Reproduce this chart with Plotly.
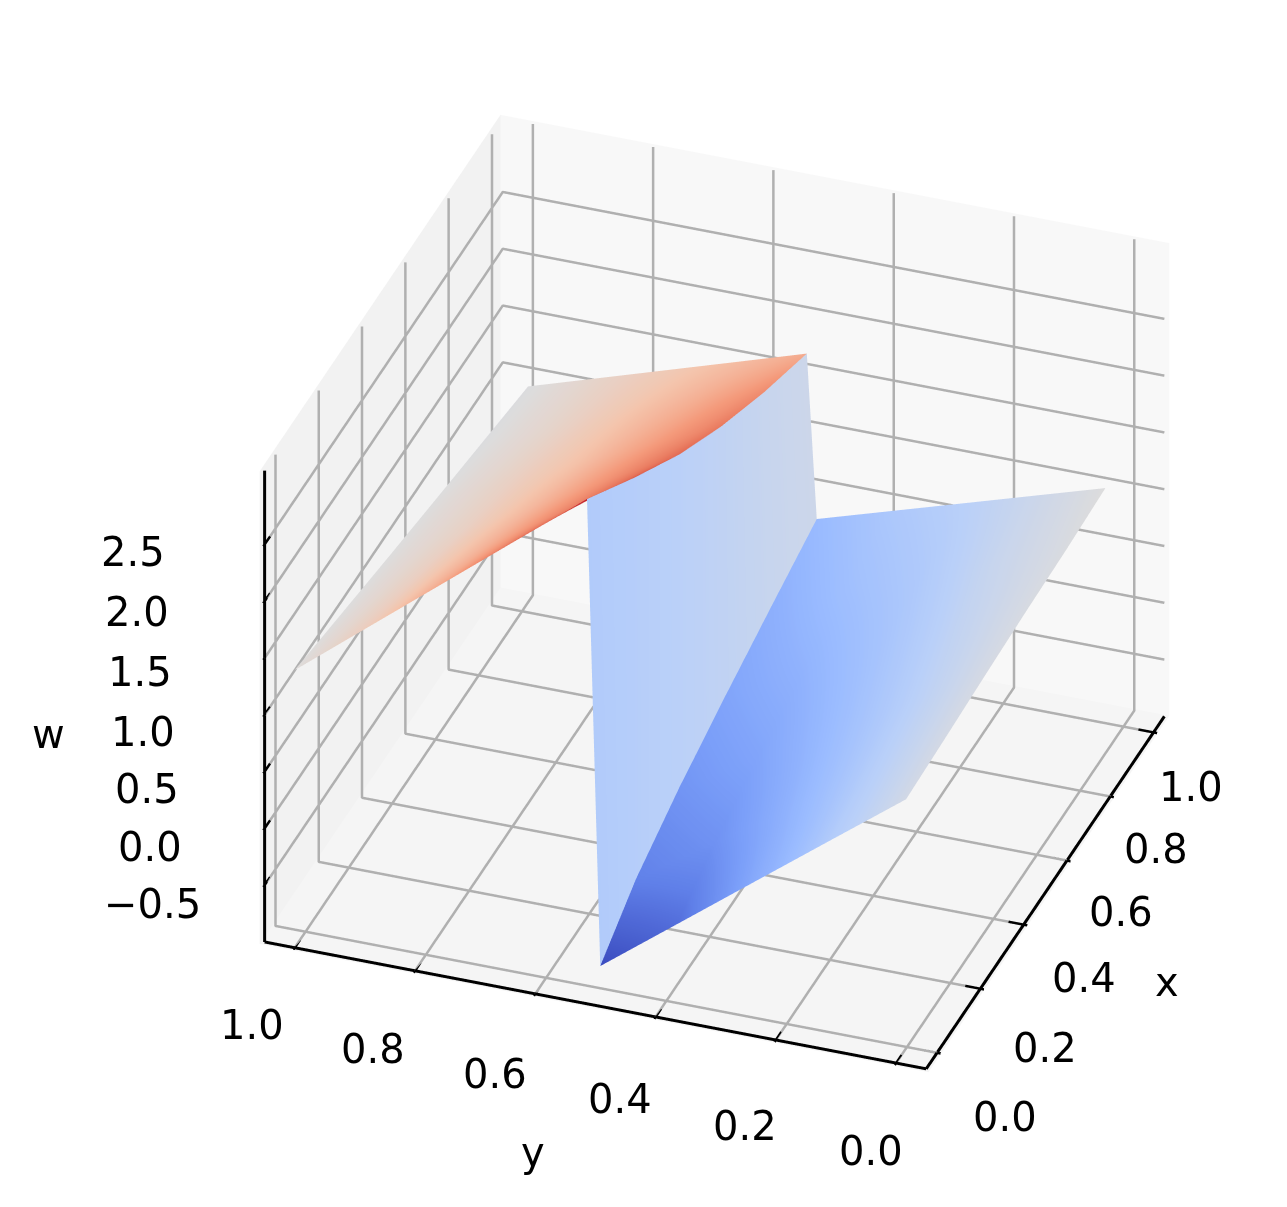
import plotly.graph_objects as go

# Lower sheet: rows run from the far edge (y near 0) to the jump.
x_lower = [[0.0, 0.2, 0.4, 0.6, 0.8, 1.0]] * 5
y_lower = [
    [0.0015, 0.007, 0.013, 0.019, 0.024, 0.03],
    [0.129, 0.1343, 0.139, 0.143, 0.146, 0.15],
    [0.256, 0.2615, 0.2655, 0.2675, 0.269, 0.27],
    [0.383, 0.392, 0.394, 0.393, 0.392, 0.39],
    [0.51, 0.5225, 0.523, 0.5195, 0.514, 0.51],
]
w_lower = [
    [1.18, 1.16, 1.14, 1.115, 1.09, 1.07],
    [0.684, 0.718, 0.761, 0.80, 0.841, 0.88],
    [0.188, 0.277, 0.383, 0.485, 0.593, 0.69],
    [-0.309, -0.165, 0.004, 0.17, 0.344, 0.50],
    [-0.805, -0.614, -0.38, -0.145, 0.095, 0.31],
]
shade_lower = [
    [0.47, 0.475, 0.48, 0.485, 0.49, 0.50],
    [0.38, 0.39, 0.40, 0.42, 0.44, 0.45],
    [0.24, 0.28, 0.31, 0.34, 0.37, 0.40],
    [0.07, 0.16, 0.22, 0.27, 0.32, 0.36],
    [0.0, 0.11, 0.17, 0.22, 0.26, 0.30],
]
# Upper sheet: rows run from the jump to the far edge (y near 1).
x_upper = [
    [0.05, 0.2, 0.4, 0.6, 0.8, 1.0],
    [0.046, 0.2, 0.4, 0.6, 0.8, 1.0],
    [0.0375, 0.2, 0.4, 0.6, 0.8, 1.0],
    [0.025, 0.2, 0.4, 0.6, 0.8, 1.0],
    [0.0125, 0.2, 0.4, 0.6, 0.8, 1.0],
    [0.0, 0.2, 0.4, 0.6, 0.8, 1.0],
]
y_upper = [
    [0.55, 0.524, 0.522, 0.5245, 0.5255, 0.5265],
    [0.587, 0.563, 0.561, 0.5625, 0.563, 0.5635],
    [0.667, 0.646, 0.643, 0.643, 0.643, 0.642],
    [0.784, 0.768, 0.764, 0.762, 0.76, 0.758],
    [0.901, 0.89, 0.885, 0.881, 0.878, 0.874],
    [1.018, 1.012, 1.006, 1.0, 0.995, 0.99],
]
w_upper = [
    [3.126, 2.92, 2.56, 2.24, 1.975, 1.75],
    [2.979, 2.784, 2.448, 2.15, 1.901, 1.689],
    [2.666, 2.496, 2.211, 1.958, 1.744, 1.56],
    [2.205, 2.073, 1.863, 1.675, 1.513, 1.37],
    [1.745, 1.649, 1.514, 1.393, 1.281, 1.18],
    [1.285, 1.225, 1.165, 1.11, 1.05, 0.99],
]
shade_upper = [
    [1.0, 0.88, 0.83, 0.79, 0.74, 0.66],
    [0.92, 0.82, 0.79, 0.75, 0.71, 0.645],
    [0.82, 0.75, 0.72, 0.69, 0.66, 0.62],
    [0.67, 0.65, 0.63, 0.61, 0.60, 0.58],
    [0.57, 0.56, 0.55, 0.55, 0.54, 0.54],
    [0.505, 0.50, 0.50, 0.50, 0.495, 0.495],
]
shade_wall = [0.375, 0.39, 0.405, 0.42, 0.44, 0.455]

x_ticks = [0.0, 0.2, 0.4, 0.6, 0.8, 1.0]
y_ticks = [0.0, 0.2, 0.4, 0.6, 0.8, 1.0]
w_ticks = [-0.5, 0.0, 0.5, 1.0, 1.5, 2.0, 2.5]
w_tick_text = ["\u22120.5", "0.0", "0.5", "1.0", "1.5", "2.0", "2.5"]
X0, X1 = -0.05, 1.05
Y0, Y1 = -0.05, 1.05
Z0, Z1 = -1.0, 3.15
PAD = 0.006

coolwarm = [[0, "#3b4cc0"], [0.1, "#5f7fe8"], [0.2, "#7b9ff9"], [0.3, "#9abbff"], [0.4, "#b9d0f9"],
            [0.5, "#dddcdc"], [0.6, "#f4c5ad"], [0.7, "#f49a7b"], [0.8, "#e8765c"], [0.9, "#d44e41"], [1, "#b40426"]]
flat = dict(ambient=1, diffuse=0, specular=0, fresnel=0, roughness=1)
common = dict(colorscale=coolwarm, cmin=0, cmax=1, showscale=False, lighting=flat, hoverinfo="skip")

fig = go.Figure()


def lines(segments, color, width):
    xs, ys, zs = [], [], []
    for seg in segments:
        for p in seg:
            xs.append(p[0]); ys.append(p[1]); zs.append(p[2])
        xs.append(None); ys.append(None); zs.append(None)
    fig.add_scatter3d(x=xs, y=ys, z=zs, mode="lines", line=dict(color=color, width=width),
                      hoverinfo="skip", showlegend=False)


grid = []
for t in x_ticks:
    grid.append([(t, Y0, Z0), (t, Y1, Z0), (t, Y1, Z1)])
for t in y_ticks:
    grid.append([(X0, t, Z0), (X1, t, Z0), (X1, t, Z1)])
for t in w_ticks:
    grid.append([(X0, Y1, t), (X1, Y1, t), (X1, Y0, t)])
lines(grid, "#b0b0b0", 5)

fig.add_surface(x=x_lower, y=y_lower, z=w_lower, surfacecolor=shade_lower, **common)
fig.add_surface(x=x_upper, y=y_upper, z=w_upper, surfacecolor=shade_upper, **common)
fig.add_surface(x=[x_lower[-1], x_upper[0]], y=[y_lower[-1], y_upper[0]], z=[w_lower[-1], w_upper[0]],
                surfacecolor=[shade_wall, shade_wall], **common)

axes_lines = [[(X0, Y0, Z0), (X1, Y0, Z0)], [(X0, Y0, Z0), (X0, Y1, Z0)], [(X0, Y1, Z0), (X0, Y1, Z1)]]
lines(axes_lines, "black", 6)
tick_half = 0.025
tick_marks = [[(t, Y0 - tick_half, Z0), (t, Y0 + tick_half, Z0)] for t in x_ticks]
tick_marks += [[(X0 - tick_half, t, Z0), (X0 + tick_half, t, Z0)] for t in y_ticks]
tick_marks += [[(X0 - tick_half, Y1, t), (X0 + tick_half, Y1, t)] for t in w_ticks]
lines(tick_marks, "black", 5)

font = dict(family="DejaVu Sans", size=40, color="black")


def note(x, y, z, text, dx, dy):
    return dict(x=x, y=y, z=z, text=text, showarrow=False, xshift=dx, yshift=-dy,
                xanchor="center", yanchor="middle", font=font)


x_nudge = [(13, -1), (10, -6), (5, -11), (-1, -13), (-9, -12), (-18, -10)]
y_nudge = [(-5, 3), (-11, 1), (-16, -3), (-20, -5), (-22, -7), (-23, -8)]
w_nudge = [(-32, -18), (-35, -18), (-38, -19), (-42, -20), (-45, -23), (-48, -26), (-52, -29)]
notes = [note(t, Y0, Z0, f"{t:.1f}", 55 + n[0], 65 + n[1]) for t, n in zip(x_ticks, x_nudge)]
notes += [note(X0, t, Z0, f"{t:.1f}", -20 + n[0], 85 + n[1]) for t, n in zip(y_ticks, y_nudge)]
notes += [note(X0, Y1, t, s, -80 + n[0], 37 + n[1]) for t, s, n in zip(w_ticks, w_tick_text, w_nudge)]
notes += [note(0.5, Y0, Z0, "x", 122, 90), note(X0, 0.5, Z0, "y", -63, 147), note(X0, Y1, 1.07, "w", -216, 27)]


def axis(rng, bg):
    return dict(title=dict(text=""), range=[rng[0] - PAD, rng[1] + PAD], showbackground=True, backgroundcolor=bg,
                showgrid=False, showline=False, ticks="", showticklabels=False, zeroline=False,
                showspikes=False)


fig.update_layout(
    width=1287, height=1207, paper_bgcolor="white", margin=dict(l=0, r=0, t=0, b=0),
    scene=dict(
        domain=dict(x=[0.098, 1], y=[0.03, 1]),
        aspectmode="manual", aspectratio=dict(x=1.214, y=1.214, z=0.954),
        camera=dict(eye=dict(x=-1.239, y=-0.446, z=0.829), center=dict(x=0, y=0, z=0),
                    projection=dict(type="orthographic")),
        xaxis=axis([X0, X1], "#f8f8f8"),
        yaxis=axis([Y0, Y1], "#f2f2f2"),
        zaxis=axis([Z0, Z1], "#f5f5f5"),
        annotations=notes,
    ),
)
fig.write_html("out.html")
